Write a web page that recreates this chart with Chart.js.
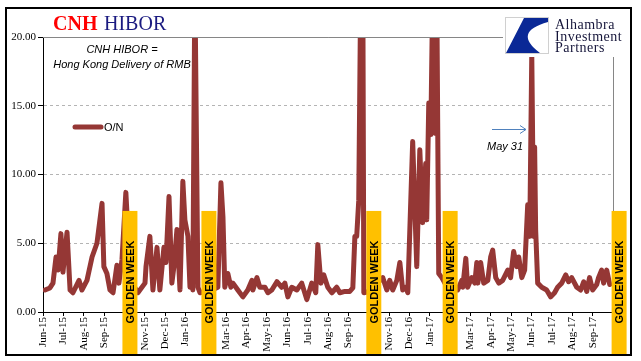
<!DOCTYPE html>
<html>
<head>
<meta charset="utf-8">
<script src="https://cdn.jsdelivr.net/npm/chart.js@4.4.0/dist/chart.umd.min.js"></script>
<style>
  html, body { margin: 0; padding: 0; background: #fff; }
  canvas { display: block; }
</style>
</head>
<body>
<canvas id="hiborChart" width="641" height="361"></canvas>
<script>
// month tick labels, one per month starting Jun-15 (index 0)
const monthLabels = ['Jun-15','Jul-15','Aug-15','Sep-15','Oct-15','Nov-15','Dec-15','Jan-16','Feb-16','Mar-16',
  'Apr-16','May-16','Jun-16','Jul-16','Aug-16','Sep-16','Oct-16','Nov-16','Dec-16','Jan-17','Feb-17',
  'Mar-17','Apr-17','May-17','Jun-17','Jul-17','Aug-17','Sep-17','Oct-17'];

// observation position, in months since 1 Jun 2015
const obsMonth = [0.10,0.34,0.49,0.64,0.74,0.88,0.98,1.18,1.33,1.47,1.77,1.91,2.16,2.41,2.65,2.90,2.99,3.14,3.29,3.44,
  3.63,3.73,3.88,4.07,4.12,4.27,4.42,4.66,5.01,5.06,5.25,5.40,5.60,5.74,5.94,6.04,6.19,6.33,6.43,6.58,
  6.73,6.87,6.97,7.12,7.22,7.31,7.36,7.46,7.61,7.71,7.95,8.30,8.59,8.74,8.84,8.93,9.08,9.23,9.33,9.57,
  9.82,10.06,10.26,10.31,10.51,10.65,10.90,11.05,11.24,11.49,11.73,11.88,12.03,12.22,12.47,12.71,12.96,13.20,13.40,13.50,
  13.65,13.79,13.99,14.19,14.43,14.58,14.83,15.07,15.22,15.32,15.41,15.51,15.61,15.71,15.76,16.05,16.35,16.69,16.89,17.03,
  17.18,17.38,17.53,17.67,17.82,17.92,18.16,18.36,18.51,18.65,18.80,18.85,18.95,19.05,19.15,19.24,19.34,19.44,19.59,19.78,
  20.08,20.37,20.57,20.62,20.77,20.86,21.06,21.21,21.31,21.36,21.50,21.65,21.85,21.99,22.09,22.24,22.39,22.58,22.83,22.97,
  23.12,23.27,23.37,23.52,23.66,23.81,23.91,24.01,24.10,24.15,24.20,24.30,24.50,24.74,24.94,25.13,25.28,25.48,25.68,25.82,
  25.97,26.22,26.41,26.56,26.71,26.85,27.00,27.20,27.29,27.44,27.54,27.69,27.84];

// CNH HIBOR overnight rate (%)
const onRate = [1.6,1.75,2.1,4.0,3.05,5.7,2.9,5.8,1.6,1.4,2.3,1.6,2.3,4.0,5.0,7.9,3.3,2.8,1.6,1.4,
  3.4,2.1,3.8,8.7,7.3,5.0,2.0,1.4,2.1,3.3,5.5,1.6,4.7,1.6,4.7,3.6,8.4,2.1,3.3,6.0,
  1.6,9.5,6.7,5.5,1.8,5.0,1.6,24,1.8,1.4,1.5,1.6,1.8,9.4,6.9,1.8,2.8,1.8,2.1,1.6,
  1.1,1.6,2.3,1.6,2.5,1.8,1.8,1.4,1.6,2.2,1.8,2.1,1.1,1.8,1.6,2.1,0.9,2.1,1.4,4.9,
  2.1,2.7,1.8,1.4,1.8,1.4,1.5,1.5,1.75,5.5,5.5,8.1,24,24,1.4,1.5,2.0,2.5,1.6,2.3,
  1.6,2.3,3.6,1.6,1.8,1.4,12.4,3.3,11.8,6.5,10.8,6.7,15.2,12.9,24,13,24,2.8,2.5,2.0,
  1.8,1.6,2.3,1.8,3.9,1.8,2.5,2.1,3.6,2.1,3.6,2.1,2.3,4.0,4.5,2.5,2.1,2.3,3.05,2.5,
  4.4,3.3,4.0,2.5,3.05,7.8,5.5,18.7,5.5,12,6.0,2.1,1.8,1.6,1.1,1.4,1.8,2.1,2.7,2.2,
  2.5,1.8,1.6,2.2,1.5,2.5,1.6,2.0,2.5,3.05,2.1,3.05,2.0];

// golden week markers (month position) and their height on the value axis
const goldenWeekPos = [4.27, 8.15, 16.25, 20.0, 28.3];
const goldenTop = 7.35;
const yTicks = [0, 5, 10, 15, 20];

const points = obsMonth.map((m, i) => ({ x: m, y: onRate[i] }));
const isGolden = v => goldenWeekPos.some(g => Math.abs(g - v) < 0.5);

const decorations = {
  id: 'decorations',
  beforeDraw(chart) {
    const ctx = chart.ctx;
    ctx.save();
    ctx.fillStyle = '#fff';
    ctx.fillRect(0, 0, chart.width, chart.height);
    ctx.restore();
  },
  afterDraw(chart) {
    const { ctx, chartArea: a, scales: { x, y } } = chart;
    ctx.save();

    // plot frame (top / right)
    ctx.strokeStyle = '#868686';
    ctx.lineWidth = 1;
    ctx.beginPath();
    ctx.moveTo(a.left, Math.round(a.top) + 0.5);
    ctx.lineTo(Math.round(a.right) + 0.5, Math.round(a.top) + 0.5);
    ctx.lineTo(Math.round(a.right) + 0.5, a.bottom);
    ctx.stroke();

    // golden week boxes
    goldenWeekPos.forEach(m => {
      const cx = x.getPixelForValue(m);
      const top = y.getPixelForValue(goldenTop);
      ctx.fillStyle = '#FFC000';
      ctx.fillRect(cx - 7.5, top, 15, 355 - top);
      ctx.save();
      ctx.translate(cx + 1, 282);
      ctx.rotate(-Math.PI / 2);
      ctx.fillStyle = '#000';
      ctx.font = 'bold 11px "Liberation Sans"';
      ctx.textAlign = 'center';
      ctx.textBaseline = 'middle';
      ctx.fillText('GOLDEN WEEK', 0, 0);
      ctx.restore();
    });

    // legend
    const ds = chart.data.datasets[0];
    ctx.strokeStyle = ds.borderColor;
    ctx.lineWidth = 5;
    ctx.lineCap = 'round';
    ctx.beginPath();
    ctx.moveTo(75, 127);
    ctx.lineTo(101, 127);
    ctx.stroke();
    ctx.fillStyle = '#000';
    ctx.font = '11px "Liberation Sans"';
    ctx.textAlign = 'left';
    ctx.textBaseline = 'middle';
    ctx.fillText(ds.label, 104, 128);

    // notes
    ctx.font = 'italic 11px "Liberation Sans"';
    ctx.textAlign = 'center';
    ctx.textBaseline = 'alphabetic';
    ctx.fillText('CNH HIBOR =', 122, 53);
    ctx.fillText('Hong Kong Delivery of RMB', 122, 68);
    ctx.textAlign = 'left';
    ctx.fillText('May 31', 487, 150);

    // arrow
    ctx.strokeStyle = '#4F81BD';
    ctx.lineWidth = 1;
    ctx.lineCap = 'butt';
    ctx.beginPath();
    ctx.moveTo(492, 129.5);
    ctx.lineTo(526, 129.5);
    ctx.moveTo(520, 125.5);
    ctx.lineTo(526, 129.5);
    ctx.lineTo(520, 133.5);
    ctx.stroke();

    // title
    ctx.textBaseline = 'alphabetic';
    ctx.font = 'bold 20px "Liberation Serif"';
    ctx.fillStyle = '#FF0000';
    ctx.fillText('CNH', 53, 30);
    ctx.font = '20px "Liberation Serif"';
    ctx.fillStyle = '#1A1A80';
    ctx.fillText('HIBOR', 104, 30);

    // logo
    ctx.fillStyle = '#fff';
    ctx.fillRect(503, 10, 124, 47);
    ctx.strokeStyle = '#d0d0d0';
    ctx.strokeRect(505.5, 17.5, 43, 36);
    ctx.fillStyle = '#0A2896';
    ctx.beginPath();
    ctx.moveTo(524, 18);
    ctx.lineTo(548, 18);
    ctx.lineTo(548, 22);
    ctx.quadraticCurveTo(512, 32, 540, 53);
    ctx.lineTo(506, 53);
    ctx.closePath();
    ctx.fill();
    ctx.fillStyle = '#15153A';
    ctx.font = '14px "Liberation Serif"';
    ctx.letterSpacing = '0.5px';
    ctx.fillText('Alhambra', 555, 29);
    ctx.fillText('Investment', 555, 41);
    ctx.fillText('Partners', 555, 52);
    ctx.letterSpacing = '0px';

    // outer frame
    ctx.strokeStyle = '#000';
    ctx.lineWidth = 2;
    ctx.strokeRect(6, 8, 625, 347);
    ctx.restore();
  }
};

new Chart(document.getElementById('hiborChart'), {
  type: 'line',
  data: {
    datasets: [{
      label: 'O/N',
      data: points,
      borderColor: '#953735',
      borderWidth: 5,
      borderJoinStyle: 'round',
      borderCapStyle: 'round',
      pointRadius: 0,
      tension: 0,
      clip: 0
    }]
  },
  options: {
    responsive: false,
    animation: false,
    layout: { padding: { top: 37, right: 28, left: 0, bottom: 0 } },
    plugins: { legend: { display: false }, tooltip: { enabled: false } },
    scales: {
      x: {
        type: 'linear',
        min: 0,
        max: 28,
        afterBuildTicks: s => { s.ticks = monthLabels.map((_, i) => ({ value: i })); },
        afterFit: s => { s.height = 49; },
        ticks: {
          autoSkip: false,
          minRotation: 90,
          maxRotation: 90,
          padding: 1,
          color: '#000',
          font: { family: 'Liberation Serif', size: 11 },
          callback: v => isGolden(v) ? '' : monthLabels[v]
        },
        grid: { drawOnChartArea: false, tickLength: 4, tickColor: '#000' },
        border: { color: '#000', width: 1 }
      },
      y: {
        min: 0,
        max: 20,
        afterBuildTicks: s => { s.ticks = yTicks.map(v => ({ value: v })); },
        afterFit: s => { s.width = 43; },
        ticks: {
          padding: 2,
          color: '#000',
          font: { family: 'Liberation Serif', size: 11 },
          callback: v => v.toFixed(2)
        },
        grid: {
          color: c => c.tick && c.tick.value === 0 ? 'rgba(0,0,0,0)' : '#b4b4b4',
          tickColor: '#000',
          tickLength: 5
        },
        border: { color: '#000', width: 1, dash: [3, 3] }
      }
    }
  },
  plugins: [decorations]
});
</script>
</body>
</html>
